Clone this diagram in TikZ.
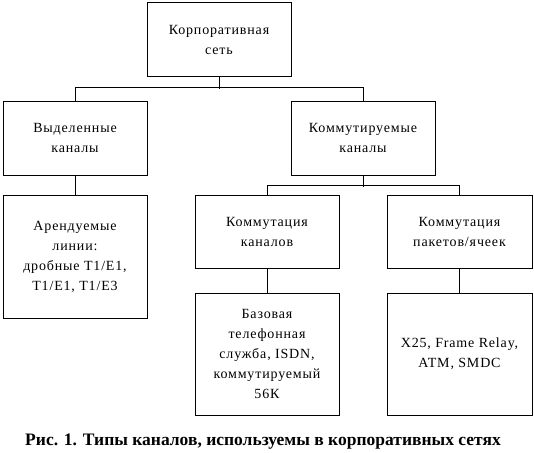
\documentclass[tikz,border=0pt]{standalone}
\usepackage{fontspec}
\setmainfont{Liberation Serif}
\begin{document}
\begin{tikzpicture}[x=1pt,y=-1pt,
  box/.style={draw,line width=1pt,rectangle,minimum width=144pt,align=center,inner sep=0pt,
    font=\fontsize{14}{20}\selectfont\addfontfeatures{LetterSpace=6}},
  conn/.style={line width=1pt}]
\useasboundingbox (0,0) rectangle (534,452);
\node[box,minimum height=73pt] (top) at (219,39.5) {Корпоративная\\сеть};
\node[box,minimum height=74pt] (vyd) at (75,138) {Выделенные\\каналы};
\node[box,minimum height=74pt] (komm) at (363,138) {Коммутируемые\\каналы};
\node[box,minimum height=123pt] (arend) at (75,256.5) {Арендуемые\\линии:\\дробные T1/E1,\\T1/E1, T1/E3};
\node[box,minimum height=73pt] (kkan) at (267,231.5) {Коммутация\\каналов};
\node[box,minimum height=73pt,minimum width=145pt] (kpak) at (459.5,231.5) {Коммутация\\пакетов/ячеек};
\node[box,minimum height=122pt] (baz) at (267,354) {Базовая\\телефонная\\служба, ISDN,\\коммутируемый\\56К};
\node[box,minimum height=122pt,minimum width=145pt] (x25) at (459.5,354) {X25, Frame Relay,\\ATM, SMDC};
\draw[conn] (top.south) -- ++(0,12);
\draw[conn] (vyd.north) -- ++(0,-13) -| (komm.north);
\draw[conn] (komm.south) -- ++(0,11);
\draw[conn] (kkan.north) -- ++(0,-9) -| (kpak.north);
\draw[conn] (vyd.south) -- (arend.north);
\draw[conn] (kkan.south) -- (baz.north);
\draw[conn] (kpak.south) -- (x25.north);
\node[font=\fontsize{17.5}{20}\selectfont\bfseries,anchor=base] (cap) at (263,445) {Рис. 1. Типы каналов, используемы в корпоративных сетях};
\end{tikzpicture}
\end{document}
